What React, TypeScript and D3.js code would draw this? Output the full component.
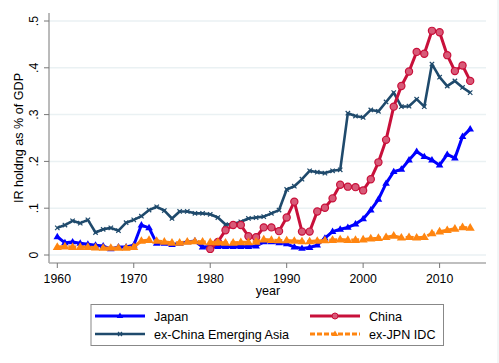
import React from "react";
import * as d3 from "d3";

const years: number[] = d3.range(1960, 2015);

const japan: number[] = [
  0.039, 0.026, 0.028, 0.025, 0.023, 0.021, 0.019, 0.013, 0.017, 0.017,
  0.021, 0.064, 0.058, 0.025, 0.025, 0.022, 0.025, 0.028, 0.03, 0.017,
  0.018, 0.018, 0.018, 0.018, 0.018, 0.018, 0.019, 0.028, 0.028, 0.026,
  0.024, 0.017, 0.014, 0.016, 0.021, 0.036, 0.05, 0.055, 0.059, 0.066,
  0.077, 0.096, 0.119, 0.153, 0.178, 0.183, 0.203, 0.221, 0.21, 0.203,
  0.192, 0.215, 0.207, 0.253, 0.269,
];

const chinaYears: number[] = d3.range(1980, 2015);
const china: number[] = [
  0.013, 0.028, 0.053, 0.064, 0.064, 0.04, 0.038, 0.059, 0.059, 0.051,
  0.08, 0.114, 0.05, 0.05, 0.093, 0.101, 0.121, 0.15, 0.146, 0.145,
  0.138, 0.162, 0.198, 0.246, 0.317, 0.361, 0.392, 0.434, 0.43, 0.479,
  0.476, 0.427, 0.393, 0.405, 0.372,
];

const exChinaEA: number[] = [
  0.058, 0.064, 0.073, 0.068, 0.075, 0.048, 0.055, 0.058, 0.052, 0.069,
  0.075, 0.083, 0.096, 0.103, 0.095, 0.078, 0.093, 0.093, 0.089, 0.089,
  0.087, 0.08, 0.065, 0.066, 0.071, 0.078, 0.08, 0.082, 0.089, 0.096,
  0.14, 0.147, 0.162, 0.18, 0.177, 0.175, 0.18, 0.182, 0.303, 0.297,
  0.294, 0.31, 0.307, 0.327, 0.347, 0.317, 0.318, 0.333, 0.317, 0.408,
  0.38, 0.361, 0.372, 0.358, 0.347,
];

const exJpnIDC: number[] = [
  0.017, 0.018, 0.017, 0.017, 0.017, 0.016, 0.015, 0.015, 0.015, 0.015,
  0.017, 0.03, 0.032, 0.03, 0.028, 0.026, 0.026, 0.028, 0.029, 0.028,
  0.027, 0.027, 0.026, 0.026, 0.027, 0.027, 0.028, 0.033, 0.032, 0.031,
  0.031, 0.03, 0.029, 0.029, 0.03, 0.031, 0.032, 0.033, 0.032, 0.032,
  0.033, 0.035, 0.036, 0.038, 0.041, 0.037, 0.038, 0.037, 0.038, 0.046,
  0.05, 0.053, 0.056, 0.059, 0.058,
];

const xTicks: number[] = [1960, 1970, 1980, 1990, 2000, 2010];
const yTicks: number[] = [0, 0.1, 0.2, 0.3, 0.4, 0.5];
const yTickLabels: string[] = ["0", ".1", ".2", ".3", ".4", ".5"];

const FONT = "'Liberation Sans', Arial, sans-serif";
const C_JAPAN = "#0000ff";
const C_CHINA = "#c8103a";
const C_EXCH = "#1f4a6c";
const C_IDC = "#ff8510";

type Pt = [number, number];

export default function App() {
  const x = d3.scaleLinear().domain([1960, 2010]).range([57.3, 439.6]);
  const y = d3.scaleLinear().domain([0, 0.5]).range([255, 21]);
  const line = d3
    .line<Pt>()
    .x((d) => x(d[0]))
    .y((d) => y(d[1]));

  const jp: Pt[] = years.map((yr, i) => [yr, japan[i]]);
  const cn: Pt[] = chinaYears.map((yr, i) => [yr, china[i]]);
  const ea: Pt[] = years.map((yr, i) => [yr, exChinaEA[i]]);
  const idc: Pt[] = years.map((yr, i) => [yr, exJpnIDC[i]]);

  const tri = (cx: number, cy: number, s: number) =>
    `M${cx},${cy - s}L${cx + s * 0.95},${cy + s * 0.6}L${cx - s * 0.95},${cy + s * 0.6}Z`;
  const cross = (cx: number, cy: number, s: number) =>
    `M${cx - s},${cy - s}L${cx + s},${cy + s}M${cx - s},${cy + s}L${cx + s},${cy - s}`;

  const left = 49;
  const right = 486;
  const bottom = 263;

  return (
    <svg
      width={499}
      height={363}
      style={{ position: "fixed", top: 0, left: 0, background: "#fff" }}
      fontFamily={FONT}
    >
      <rect x={0} y={0} width={499} height={363} fill="#fff" />
      <line x1={498} x2={498} y1={0} y2={363} stroke="#e6ecee" strokeWidth={1} />
      {/* gridlines */}
      {yTicks.map((t) => (
        <line
          key={"g" + t}
          x1={left}
          x2={right}
          y1={y(t)}
          y2={y(t)}
          stroke="#eaf1f3"
          strokeWidth={1.5}
        />
      ))}
      {/* axes */}
      <line x1={left} x2={left} y1={13} y2={bottom} stroke="#777" strokeWidth={1} />
      <line x1={left} x2={right} y1={bottom} y2={bottom} stroke="#aaa" strokeWidth={1.5} />
      {yTicks.map((t, i) => (
        <g key={"yt" + t}>
          <line x1={left - 5} x2={left} y1={y(t)} y2={y(t)} stroke="#777" />
          <text
            transform={`translate(${38},${y(t)}) rotate(-90)`}
            textAnchor="middle"
            fontSize={12.3}
            fill="#000"
          >
            {yTickLabels[i]}
          </text>
        </g>
      ))}
      {xTicks.map((t) => (
        <g key={"xt" + t}>
          <line x1={x(t)} x2={x(t)} y1={bottom} y2={bottom + 5} stroke="#777" />
          <text x={x(t)} y={283} textAnchor="middle" fontSize={12.3} fill="#000">
            {t}
          </text>
        </g>
      ))}
      <text x={268} y={294.5} textAnchor="middle" fontSize={12.6} fill="#000">
        year
      </text>
      <text
        transform={`translate(${23},${138}) rotate(-90)`}
        textAnchor="middle"
        fontSize={12.6}
        fill="#000"
      >
        IR holdng as % of GDP
      </text>

      {/* Japan */}
      <path d={line(jp) || ""} fill="none" stroke={C_JAPAN} strokeWidth={3} strokeLinejoin="round" />
      {jp.map((d, i) => (
        <path key={"jm" + i} d={tri(x(d[0]), y(d[1]), 4)} fill={C_JAPAN} />
      ))}
      {/* ex-China EA */}
      <path d={line(ea) || ""} fill="none" stroke={C_EXCH} strokeWidth={2.6} strokeLinejoin="round" />
      {ea.map((d, i) => (
        <path key={"em" + i} d={cross(x(d[0]), y(d[1]), 2.2)} stroke={C_EXCH} strokeWidth={1.2} />
      ))}
      {/* China */}
      <path d={line(cn) || ""} fill="none" stroke={C_CHINA} strokeWidth={3} strokeLinejoin="round" />
      {cn.map((d, i) => (
        <circle
          key={"cm" + i}
          cx={x(d[0])}
          cy={y(d[1])}
          r={3.6}
          fill="#d85a78"
          stroke={C_CHINA}
          strokeWidth={1.2}
        />
      ))}
      {/* ex-JPN IDC */}
      <path
        d={line(idc) || ""}
        fill="none"
        stroke={C_IDC}
        strokeWidth={3}
        strokeDasharray="8,3"
      />
      {idc.map((d, i) => (
        <path key={"im" + i} d={tri(x(d[0]), y(d[1]), 4.8)} fill={C_IDC} />
      ))}

      {/* legend */}
      <rect x={91} y={304.5} width={352.5} height={41} fill="#fff" stroke="#888" strokeWidth={1} />
      <g>
        <line x1={95} x2={145} y1={316} y2={316} stroke={C_JAPAN} strokeWidth={3} />
        <path d={tri(120, 316, 3.5)} fill={C_JAPAN} />
        <text x={154} y={320.5} fontSize={12.6}>Japan</text>

        <line x1={95} x2={145} y1={334} y2={334} stroke={C_EXCH} strokeWidth={2.6} />
        <path d={cross(120, 334, 2)} stroke={C_EXCH} strokeWidth={1.2} />
        <text x={154} y={338.5} fontSize={12.6}>ex-China Emerging Asia</text>

        <line x1={310} x2={360} y1={316} y2={316} stroke={C_CHINA} strokeWidth={3} />
        <circle cx={335} cy={316} r={3} fill="#d85a78" stroke={C_CHINA} strokeWidth={1} />
        <text x={369} y={320.5} fontSize={12.6}>China</text>

        <line
          x1={310}
          x2={360}
          y1={334}
          y2={334}
          stroke={C_IDC}
          strokeWidth={3}
          strokeDasharray="5,2"
        />
        <path d={tri(335, 334, 3.5)} fill={C_IDC} />
        <text x={369} y={338.5} fontSize={12.6}>ex-JPN IDC</text>
      </g>
    </svg>
  );
}
